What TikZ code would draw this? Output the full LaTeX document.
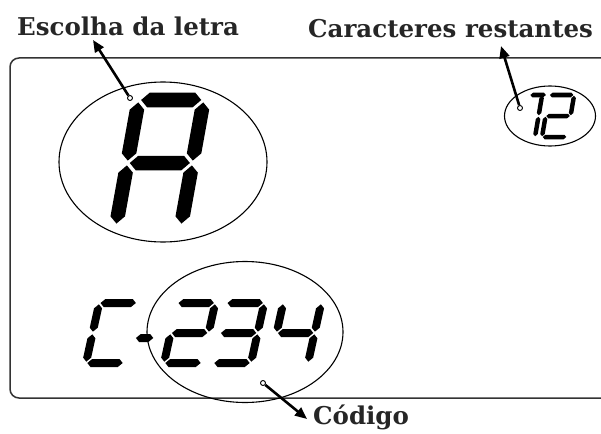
\documentclass[tikz,border=0pt]{standalone}
\usepackage{fontspec}
\setmainfont{DejaVu Serif}
\usetikzlibrary{arrows.meta, positioning, shapes.geometric}

% segments of a slanted LCD digit
\newcommand{\lcdh}[3]{\fill (#1+\segg,#3) -- (#1+\segg+\segt/2,#3+\segt/2) -- (#2-\segg-\segt/2,#3+\segt/2) -- (#2-\segg,#3) -- (#2-\segg-\segt/2,#3-\segt/2) -- (#1+\segg+\segt/2,#3-\segt/2) -- cycle;}
\newcommand{\lcdv}[3]{\fill (#1,#2+\segg) -- (#1+\segt/2,#2+\segg+\segt/2) -- (#1+\segt/2,#3-\segg-\segt/2) -- (#1,#3-\segg) -- (#1-\segt/2,#3-\segg-\segt/2) -- (#1-\segt/2,#2+\segg+\segt/2) -- cycle;}
\newcommand{\lcdsega}{\lcdh{0}{\segw}{\segh}}
\newcommand{\lcdsegb}{\lcdv{\segw}{\segh/2}{\segh}}
\newcommand{\lcdsegc}{\lcdv{\segw}{0}{\segh/2}}
\newcommand{\lcdsegd}{\lcdh{0}{\segw}{0}}
\newcommand{\lcdsege}{\lcdv{0}{0}{\segh/2}}
\newcommand{\lcdsegf}{\lcdv{0}{\segh/2}{\segh}}
\newcommand{\lcdsegg}{\lcdh{0}{\segw}{\segh/2}}
\newcommand{\lcdsegk}{\lcdh{0.5*\segw}{\segw+\segt}{\segh}}
% x, y, width, height, thickness, slant, segments
\newcommand{\lcddigit}[7]{%
  \begin{scope}[shift={(#1,#2)}, xslant=#6, y=1pt]
    \def\segw{#3}\def\segh{#4}\def\segt{#5}\pgfmathsetmacro\segg{#5/6}
    \edef\seglist{#7}
    \foreach \sg in \seglist {\csname lcdseg\sg\endcsname}
  \end{scope}}

\begin{document}
\begin{tikzpicture}[x=1pt, y=-1pt,
    oval/.style={ellipse, draw, line width=1.1pt, inner sep=0pt},
    dot/.style={circle, draw, fill=white, line width=0.9pt, inner sep=0pt, minimum size=5pt},
    pointer/.style={line width=2.6pt, -{Triangle[length=12pt, width=10pt]}},
    labeltext/.style={font=\fontsize{24.5}{26}\selectfont\bfseries, text=black!85, anchor=base west, inner sep=0pt}]
  \useasboundingbox (0,0) rectangle (601,433);
  % Display frame
  \draw[line width=1.5pt, black!80, rounded corners=9pt] (601,58) -- (10,58) -- (10,398) -- (601,398);

  % Digits
  \lcddigit{116}{226}{65}{126}{14.5}{0.18}{a,b,c,e,f,g}
  \lcddigit{510}{137}{25}{42}{4.5}{0.17}{b,c,k}
  \lcddigit{542}{137}{25}{42}{4.5}{0.17}{a,b,g,e,d}
  \foreach \dx/\segs in {86/{a,d,e,f}, 164/{a,b,g,e,d}, 213/{a,b,g,c,d}, 270/{f,g,b,c}}
    \lcddigit{\dx}{363}{38}{60}{8}{0.22}{\segs};
  \lcddigit{128}{368}{20}{60}{8}{0.22}{g}

  % Ovals
  \node[oval, minimum width=208pt, minimum height=160pt] (letraoval) at (163,162) {};
  \node[oval, minimum width=91pt, minimum height=60pt] (restoval) at (550,116) {};
  \node[oval, minimum width=196pt, minimum height=141pt] (codigooval) at (245,332) {};

  % Labels
  \node[labeltext] (escolha) at (17,36) {Escolha da letra};
  \node[labeltext] (restantes) at (308,38) {Caracteres restantes};
  \node[labeltext] (codigo) at (313,424) {Código};

  % Pointers
  \node[dot] (letradot) at (130,98) {};
  \node[dot] (restdot) at (520,108) {};
  \node[dot] (codigodot) at (263,383) {};
  \coordinate (escolhatip) at (93,40);
  \coordinate (restantestip) at (501,46);
  \coordinate (codigotip) at (307,419);
  \draw[pointer] (letradot) -- (escolhatip);
  \draw[pointer] (restdot) -- (restantestip);
  \draw[pointer] (codigodot) -- (codigotip);
\end{tikzpicture}
\end{document}
